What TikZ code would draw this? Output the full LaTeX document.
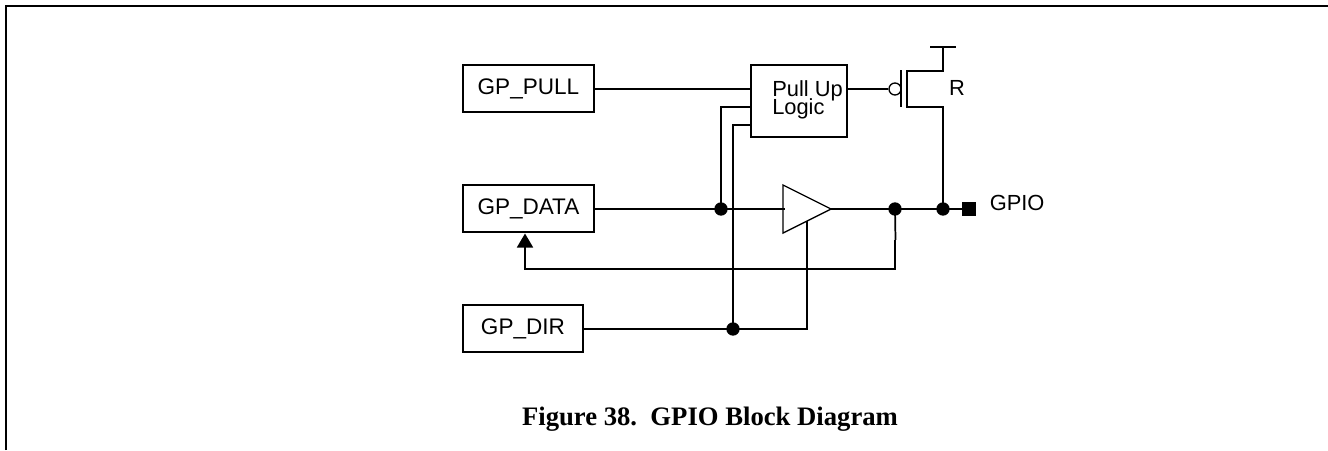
\documentclass[tikz,border=0pt]{standalone}
\usepackage{fontspec}
\setmainfont{Liberation Sans}
\newfontfamily\capfont{Liberation Serif}
\usetikzlibrary{arrows.meta}
\tikzset{
  regbox/.style={draw,line width=1.4pt,inner sep=0pt,anchor=north west,font=\fontsize{16.9}{18}\selectfont},
  wire/.style={line width=1.3pt},
  junct/.style={circle,fill=black,inner sep=0pt,minimum size=10pt},
  lbl/.style={inner sep=0pt,font=\fontsize{16.4}{18}\selectfont}
}
\begin{document}
\begin{tikzpicture}[x=0.75pt,y=-0.75pt]
\useasboundingbox (0,0) rectangle (1328,450);
\draw[line width=1.6pt] (6,450) -- (6,6) -- (1328,6);

\node[regbox,minimum width=98.25pt,minimum height=35.25pt] (pull) at (462,64) {GP\_PULL};
\node[regbox,minimum width=98.25pt,minimum height=35.25pt] (data) at (462,184) {GP\_DATA};
\node[regbox,minimum width=90pt,minimum height=35.25pt] (dir) at (462,304) {GP\_DIR};
\node[regbox,minimum width=72pt,minimum height=54pt] (logic) at (750,64) {};
\node[lbl,anchor=base west] (logictop) at (772,96) {Pull Up};
\node[lbl,anchor=base west] (logicbot) at (772,114) {Logic};

\coordinate (j1) at (721,209);
\coordinate (j2) at (895,209);
\coordinate (j3) at (943,209);
\coordinate (j4) at (733,329);
\node[junct] (d1) at (j1) {};
\node[junct] (d2) at (j2) {};
\node[junct] (d3) at (j3) {};
\node[junct] (d4) at (j4) {};

% buffer
\coordinate (bufa) at (783,185);
\coordinate (bufb) at (783,233);
\coordinate (bufc) at (831,209);
\draw[wire,line width=1pt] (bufa) -- (bufc) -- (bufb) -- cycle;

\draw[wire] (pull.east |- 0,89) -- (logic.west |- 0,89);
\draw[wire] (data.east |- j1) -- (j1) -- (785,209);
\draw[wire] (bufc) -- (j2) -- (j3);
\draw[wire] (dir.east |- j4) -- (j4) -- (807,329) -- (807,221);

\draw[wire] (logic.west |- 0,107) -- (721,107) -- (j1);
\draw[wire] (logic.west |- 0,125) -- (733,125) -- (j4);

% feedback, with the small kink
\draw[wire] (j2) -- (895.5,240);
\draw[wire,-{Triangle[length=10.5pt,width=12pt]}] (895,240) -- (895,269) -- (525,269) -- (525,233.5);

% pull up transistor
\node[circle,draw,line width=1pt,inner sep=0pt,minimum size=9pt] (bubble) at (895,89) {};
\coordinate (gatetop) at (901,70);
\coordinate (gatebot) at (901,107);
\draw[wire] (logic.east |- bubble) -- (bubble);
\draw[wire] (gatetop) -- (gatebot);
\draw[wire] (943,47) -- (943,71) -- (907,71) -- (907,107) -- (943,107) -- (j3);
\draw[line width=1.1pt] (930,47) -- (956,47);
\node[lbl,anchor=base] (rlabel) at (957,95) {R};

\node[fill=black,inner sep=0pt,minimum size=10.5pt] (pad) at (969,209) {};
\draw[wire] (j3) -- (pad);
\node[lbl,anchor=base west] (gpio) at (989.5,210.5) {GPIO};

\node[inner sep=0pt,anchor=base,font=\capfont\bfseries\fontsize{20}{22}\selectfont] (caption) at (710,425) {Figure 38.\enspace GPIO Block Diagram};
\end{tikzpicture}
\end{document}
